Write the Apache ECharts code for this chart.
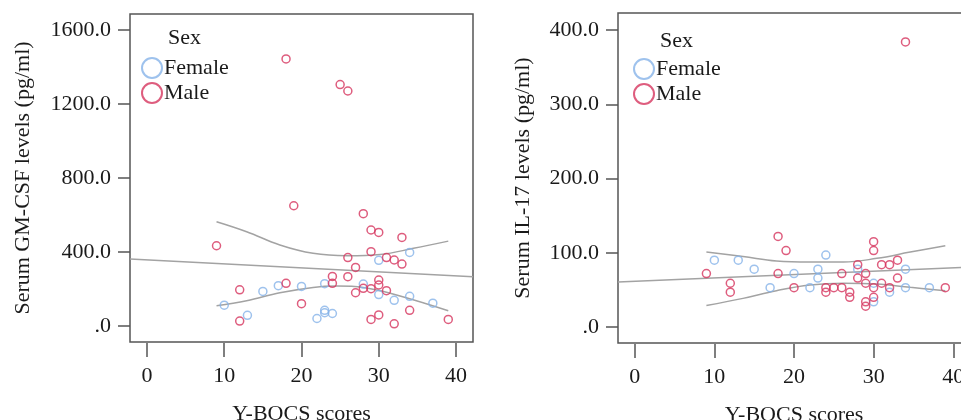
<!DOCTYPE html>
<html><head><meta charset="utf-8">
<script src="https://cdn.jsdelivr.net/npm/echarts@6/dist/echarts.min.js"></script>
<style>html,body{margin:0;padding:0;background:#fff}#c{width:961px;height:420px}</style>
</head><body><div id="c"></div>
<script>
// ---- data ----
const xTicks = [0, 10, 20, 30, 40];
const gmTicks = [0, 400, 800, 1200, 1600];
const gmTickLabels = ['.0', '400.0', '800.0', '1200.0', '1600.0'];
const ilTicks = [0, 100, 200, 300, 400];
const ilTickLabels = ['.0', '100.0', '200.0', '300.0', '400.0'];

const gmFemale = [[34,398],[30,355],[17,218],[20,214],[23,229],[28,227],[15,187],[30,170],[34,161],[32,139],[37,124],[10,113],[13,58],[23,85],[23,72],[24,68],[22,41]];
const gmMale = [[18,1443],[25,1305],[26,1270],[19,650],[28,607],[29,519],[30,506],[33,479],[9,434],[29,402],[26,370],[31,370],[32,357],[33,335],[27,317],[24,268],[26,267],[30,249],[18,231],[24,231],[30,222],[28,204],[29,202],[12,196],[31,191],[27,180],[20,121],[34,85],[30,60],[29,36],[39,36],[12,27],[32,12]];
const gmFit = [[-2.2,362],[42.2,267]];
const gmUpper = [[9,564],[12.9,510],[17.2,438],[21.5,393],[25.9,380],[30.2,387],[34.5,420],[39,459]];
const gmLower = [[9,110],[12.9,137],[17.2,180],[21.5,209],[24.6,216],[28,209],[32.3,168],[39,83]];

const ilFemale = [[10,90],[13,90],[15,78],[24,97],[20,72],[23,78],[23,66],[17,53],[22,53],[28,78],[30,59],[30,34],[32,47],[34,78],[34,53],[37,53]];
const ilMale = [[34,384],[18,122],[19,103],[30,115],[30,103],[9,72],[18,72],[12,59],[12,47],[20,53],[24,53],[24,47],[25,53],[26,53],[26,72],[27,47],[27,40],[28,84],[28,66],[29,72],[29,59],[29,34],[29,28],[30,53],[30,40],[31,84],[31,59],[32,84],[32,53],[33,90],[33,66],[39,53]];
const ilFit = [[-2.1,60.6],[42.1,80.8]];
const ilUpper = [[9,101],[13.6,95],[17.8,89],[22,87.5],[26.2,87.5],[30.4,92.5],[34.6,101],[39,109.5]];
const ilLower = [[9,29],[13.6,38.6],[17.8,49],[22,56.6],[26.2,59],[30.4,58],[34.6,53.5],[39,49]];

// ---- style ----
const FONT = '"Liberation Serif", "DejaVu Serif", serif';
const TXT = '#1a1a1a';
const AX = '#555';
const BLUE = '#86b3e8';
const RED = '#d6345e';
const LINE = '#a3a3a3';

function fmt(ticks, labels) { return v => { const i = ticks.indexOf(Math.round(v)); return i >= 0 ? labels[i] : ''; }; }

function xAxis(gi) {
  return {
    type: 'value', gridIndex: gi, min: gi === 0 ? -2.2 : -2.1, max: gi === 0 ? 42.2 : 42.1,
    position: 'bottom', offset: 1,
    axisLine: { show: false, onZero: false },
    axisTick: { show: true, inside: false, length: 14, customValues: xTicks, lineStyle: { color: AX, width: 1.5 } },
    axisLabel: { customValues: xTicks, margin: 22, fontFamily: FONT, fontSize: 22, color: TXT },
    splitLine: { show: false },
    name: 'Y-BOCS scores', nameLocation: 'middle', nameGap: 60,
    nameTextStyle: { fontFamily: FONT, fontSize: 22, color: TXT }
  };
}
function yAxis(gi, min, max, ticks, labels, name, gap) {
  return {
    type: 'value', gridIndex: gi, min: min, max: max, position: 'left',
    axisLine: { show: false, onZero: false },
    axisTick: { show: true, inside: false, length: 12, customValues: ticks, lineStyle: { color: AX, width: 1.5 } },
    axisLabel: { customValues: ticks, margin: 19, formatter: fmt(ticks, labels), fontFamily: FONT, fontSize: 22, color: TXT },
    splitLine: { show: false },
    name: name, nameLocation: 'middle', nameGap: gap, nameRotate: 90,
    nameTextStyle: { fontFamily: FONT, fontSize: 22, color: TXT }
  };
}
function scatter(name, data, gi, color) {
  return { type: 'scatter', name: name, data: data, xAxisIndex: gi, yAxisIndex: gi,
    symbol: 'circle', symbolSize: 8,
    itemStyle: { color: 'rgba(255,255,255,0)', borderColor: color, borderWidth: 1.5 },
    silent: true, z: 3 };
}
function line(data, gi, smooth) {
  return { type: 'line', data: data, xAxisIndex: gi, yAxisIndex: gi, smooth: smooth ? 0.4 : false,
    symbol: 'none', lineStyle: { color: LINE, width: 1.5 }, silent: true, z: 2 };
}
function legend(left, top) {
  return { data: ['Female', 'Male'], orient: 'vertical', left: left, top: top, padding: 0,
    itemWidth: 20, itemHeight: 20, itemGap: 3, selectedMode: false,
    textStyle: { fontFamily: FONT, fontSize: 22, color: TXT, padding: [0, 0, 0, -3] } };
}

const chart = echarts.init(document.getElementById('c'), null, { renderer: 'canvas' });
chart.setOption({
  animation: false,
  backgroundColor: '#fff',
  grid: [
    { left: 130, top: 14, width: 343, height: 328, containLabel: false, outerBoundsMode: 'none', show: true, borderColor: AX, borderWidth: 1.5, backgroundColor: 'transparent' },
    { left: 618, top: 13, width: 352, height: 330, containLabel: false, outerBoundsMode: 'none', show: true, borderColor: AX, borderWidth: 1.5, backgroundColor: 'transparent' }
  ],
  xAxis: [xAxis(0), xAxis(1)],
  yAxis: [
    yAxis(0, -86, 1686, gmTicks, gmTickLabels, 'Serum GM-CSF levels (pg/ml)', 96),
    yAxis(1, -21.5, 423, ilTicks, ilTickLabels, 'Serum IL-17 levels (pg/ml)', 84)
  ],
  legend: [legend(141, 57), legend(633, 58)],
  graphic: [
    { type: 'text', left: 168, top: 27, style: { text: 'Sex', font: '22px ' + FONT, fill: TXT } },
    { type: 'text', left: 660, top: 30, style: { text: 'Sex', font: '22px ' + FONT, fill: TXT } }
  ],
  series: [
    line(gmFit, 0, false), line(gmUpper, 0, true), line(gmLower, 0, true),
    scatter('Female', gmFemale, 0, BLUE), scatter('Male', gmMale, 0, RED),
    line(ilFit, 1, false), line(ilUpper, 1, true), line(ilLower, 1, true),
    scatter('Female', ilFemale, 1, BLUE), scatter('Male', ilMale, 1, RED)
  ]
});
</script></body></html>
